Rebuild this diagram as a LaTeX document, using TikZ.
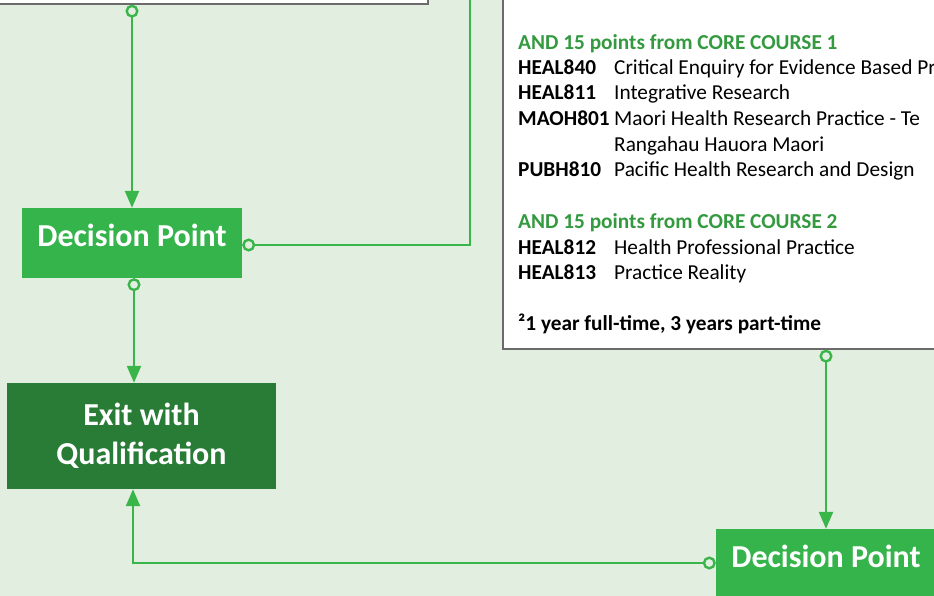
\documentclass[tikz,border=0pt]{standalone}
\usepackage{fontspec}
\setmainfont{Carlito}
\usetikzlibrary{arrows.meta}
\definecolor{bg}{HTML}{E2EFE0}
\definecolor{dpgreen}{HTML}{34B44B}
\definecolor{exitgreen}{HTML}{287C36}
\definecolor{linegreen}{HTML}{3AB54A}
\definecolor{headgreen}{HTML}{349A40}
\definecolor{boxborder}{HTML}{6B6B6B}
\begin{document}
\begin{tikzpicture}[x=1pt,y=-1pt,
  conn/.style={draw=linegreen, line width=2.4pt,
    {Circle[open,fill=bg,length=13pt,width=13pt]}-{Triangle[length=17pt,width=14pt]}},
  connopen/.style={draw=linegreen, line width=2.4pt,
    {Circle[open,fill=bg,length=13pt,width=13pt]}-},
  whitebox/.style={draw=boxborder, fill=white, line width=1.3pt, inner sep=0pt},
  dpbox/.style={fill=dpgreen, text=white, inner sep=0pt, minimum width=220pt, minimum height=70pt,
    font=\bfseries\fontsize{32}{38}\selectfont, text height=20pt, text depth=13pt},
  exitbox/.style={fill=exitgreen, text=white, inner sep=0pt, minimum width=269pt, minimum height=106pt,
    align=center, font=\bfseries\fontsize{32}{39}\selectfont},
  head/.style={anchor=base west, inner sep=0pt, text=headgreen, font=\bfseries\fontsize{21.3}{25}\selectfont},
  code/.style={anchor=base west, inner sep=0pt, font=\bfseries\fontsize{21.3}{25}\selectfont},
  desc/.style={anchor=base west, inner sep=0pt, font=\fontsize{21.3}{25}\selectfont},
]
\useasboundingbox (0,0) rectangle (934,596);
\fill[bg] (0,0) rectangle (934,596);

% partially visible boxes
\node[whitebox, minimum width=468pt, minimum height=44pt] (tl) at (194,-18) {};
\node[whitebox, minimum width=477pt, minimum height=399pt] (rbox) at (741.5,149.5) {};

% right box text
\node[head] (h1) at (518,49.3) {AND 15 points from CORE COURSE 1};
\node[code] (c1) at (518,74.5) {HEAL840};
\node[desc] (d1) at (614,74.5) {Critical Enquiry for Evidence Based Practice};
\node[code] (c2) at (518,100) {HEAL811};
\node[desc] (d2) at (614,100) {Integrative Research};
\node[code] (c3) at (518,125.7) {MAOH801};
\node[desc] (d3) at (614,125.7) {Maori Health Research Practice - Te};
\node[desc] (d3b) at (614,151.3) {Rangahau Hauora Maori};
\node[code] (c4) at (518,177) {PUBH810};
\node[desc] (d4) at (614,177) {Pacific Health Research and Design};
\node[head] (h2) at (518,228.5) {AND 15 points from CORE COURSE 2};
\node[code] (c5) at (518,254) {HEAL812};
\node[desc] (d5) at (614,254) {Health Professional Practice};
\node[code] (c6) at (518,279.6) {HEAL813};
\node[desc] (d6) at (614,279.6) {Practice Reality};
\node[code] (fn) at (518,330) {²1 year full-time, 3 years part-time};

% decision points and exit
\node[dpbox] (dp1) at (132,243) {Decision Point};
\node[exitbox] (exit) at (141.5,436) {Exit with\\Qualification};
\node[dpbox] (dp2) at (826,564) {Decision Point};

\coordinate (up) at (470,-20);

% connectors
\draw[conn] (dp1.north |- tl.south) -- (dp1.north);
\draw[connopen] ([yshift=-2pt]dp1.east) -| (up);
\draw[conn] ([xshift=2pt]dp1.south) -- ([xshift=2pt]dp1.south |- exit.north);
\draw[conn] (dp2.north |- rbox.south) -- (dp2.north);
\draw[conn] ([yshift=1pt]dp2.west) -| ([xshift=-8.5pt]exit.south);
\end{tikzpicture}
\end{document}
